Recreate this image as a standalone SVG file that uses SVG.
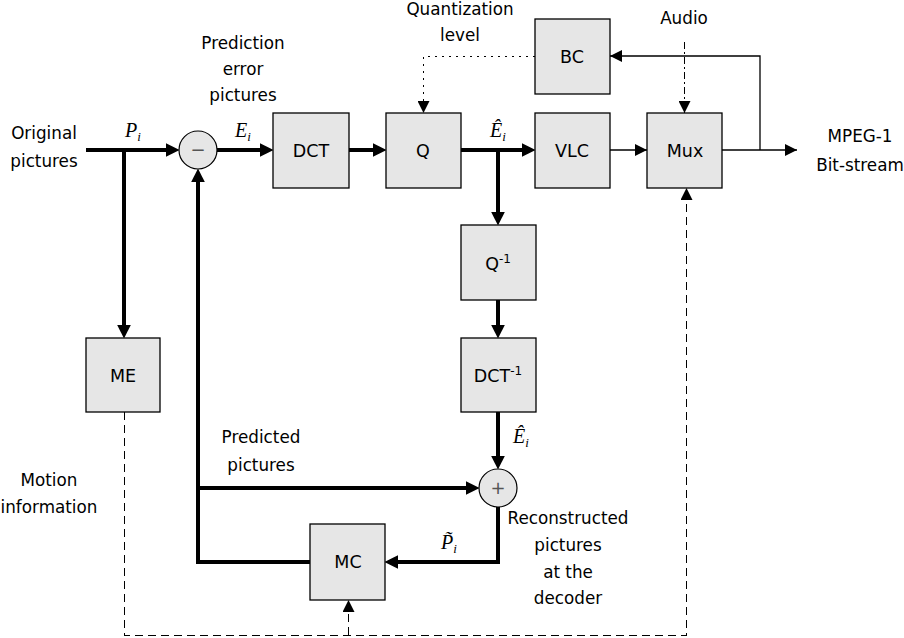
<svg xmlns="http://www.w3.org/2000/svg" width="904" height="638" viewBox="0 0 904 638">
<style>
text{font-family:"DejaVu Sans","Liberation Sans",sans-serif;fill:#000}
.lbl{font-size:16.8px;text-anchor:middle}
.box{fill:#e6e6e6;stroke:#000;stroke-width:1.3}
.bt{font-size:17.5px;text-anchor:middle}
.m{font-family:"Liberation Serif","DejaVu Serif",serif;font-style:italic;font-size:20px;text-anchor:middle}
.thick{fill:none;stroke:#000;stroke-width:4;marker-end:url(#ah)}
.thin{fill:none;stroke:#000;stroke-width:1.3;marker-end:url(#at)}
.dash{stroke-width:1;stroke-dasharray:8 5;shape-rendering:crispEdges}
.dot{stroke-width:1;stroke-dasharray:2 5;shape-rendering:crispEdges}
.dashdot{stroke-width:1;stroke-dasharray:7 3 2 3;shape-rendering:crispEdges}
.sum{fill:#e6e6e6;stroke:#000;stroke-width:1.2}
</style>
<defs>
<marker id="ah" markerUnits="userSpaceOnUse" markerWidth="14" markerHeight="14" viewBox="0 0 13 13" refX="5" refY="6.5" orient="auto"><path d="M0,0 L13,6.5 L0,13 z" fill="#000"/></marker>
<marker id="at" markerUnits="userSpaceOnUse" markerWidth="12" markerHeight="12" viewBox="0 0 11 11" refX="11" refY="5.5" orient="auto"><path d="M0,0 L11,5.5 L0,11 z" fill="#000"/></marker>
</defs>

<g id="connectors">
<path class="thick" d="M86,150 H171"/>
<path class="thick" d="M124,150 V330"/>
<path class="thick" d="M217,150 H265"/>
<path class="thick" d="M349,150 H378"/>
<path class="thick" d="M461,150 H527"/>
<path class="thick" d="M498,150 V217"/>
<path class="thick" d="M498,300 V330"/>
<path class="thick" d="M498,412 V461"/>
<path class="thick" d="M498,507 V562 H393"/>
<path class="thick" d="M310,562 H198 V177"/>
<path class="thick" d="M198,488 H471"/>
<path class="thin" d="M610,150 H647"/>
<path class="thin" d="M722,150 H797"/>
<path class="thin" d="M760,150 V56 H610"/>
<path class="thin dot" d="M535,56.5 H423.5 V113"/>
<path class="thin dashdot" d="M684.5,42 V113"/>
<path class="thin dash" d="M124.5,412 V635.5 H686.5 V188"/>
<path class="thin dash" d="M348.5,635 V600"/>
</g>

<g id="sub"><circle class="sum" cx="198" cy="150" r="19"/><text x="198" y="156" font-size="18" text-anchor="middle" style="fill:#555">−</text></g>
<g id="add"><circle class="sum" cx="498" cy="488" r="19"/><text x="498" y="494" font-size="18" text-anchor="middle" style="fill:#555">+</text></g>

<g id="DCT"><rect class="box" x="273" y="113" width="76" height="75"/><text class="bt" x="311" y="157">DCT</text></g>
<g id="Q"><rect class="box" x="386" y="113" width="75" height="75"/><text class="bt" x="423" y="157">Q</text></g>
<g id="VLC"><rect class="box" x="535" y="113" width="75" height="75"/><text class="bt" x="572" y="157">VLC</text></g>
<g id="Mux"><rect class="box" x="647" y="113" width="75" height="75"/><text class="bt" x="685" y="157">Mux</text></g>
<g id="BC"><rect class="box" x="535" y="19" width="75" height="75"/><text class="bt" x="572" y="63">BC</text></g>
<g id="Qinv"><rect class="box" x="461" y="225" width="75" height="75"/><text class="bt" x="498" y="270">Q<tspan font-size="12" dy="-7">-1</tspan></text></g>
<g id="DCTinv"><rect class="box" x="461" y="338" width="75" height="74"/><text class="bt" x="498" y="382">DCT<tspan font-size="12" dy="-7">-1</tspan></text></g>
<g id="ME"><rect class="box" x="86" y="338" width="74" height="74"/><text class="bt" x="123" y="382">ME</text></g>
<g id="MC"><rect class="box" x="310" y="524" width="75" height="76"/><text class="bt" x="348" y="568">MC</text></g>

<g id="labels">
<text class="lbl" x="44" y="139">Original</text>
<text class="lbl" x="44" y="167">pictures</text>
<text class="lbl" x="243" y="49">Prediction</text>
<text class="lbl" x="243" y="75">error</text>
<text class="lbl" x="243" y="101">pictures</text>
<text class="lbl" x="460" y="15">Quantization</text>
<text class="lbl" x="460" y="41">level</text>
<text class="lbl" x="684" y="24">Audio</text>
<text class="lbl" x="860" y="142">MPEG-1</text>
<text class="lbl" x="860" y="171">Bit-stream</text>
<text class="lbl" x="261" y="443">Predicted</text>
<text class="lbl" x="261" y="471">pictures</text>
<text class="lbl" x="49" y="486">Motion</text>
<text class="lbl" x="49" y="513">information</text>
<text class="lbl" x="568" y="524">Reconstructed</text>
<text class="lbl" x="568" y="551">pictures</text>
<text class="lbl" x="568" y="578">at the</text>
<text class="lbl" x="568" y="604">decoder</text>
<text class="m" x="133" y="137">P<tspan font-size="13" dy="4">i</tspan></text>
<text class="m" x="243" y="137">E<tspan font-size="13" dy="4">i</tspan></text>
<text class="m" x="498" y="137">Ê<tspan font-size="13" dy="4">i</tspan></text>
<text class="m" x="521" y="443">Ê<tspan font-size="13" dy="4">i</tspan></text>
<text class="m" x="449" y="549">P̃<tspan font-size="13" dy="4">i</tspan></text>
</g>
</svg>
